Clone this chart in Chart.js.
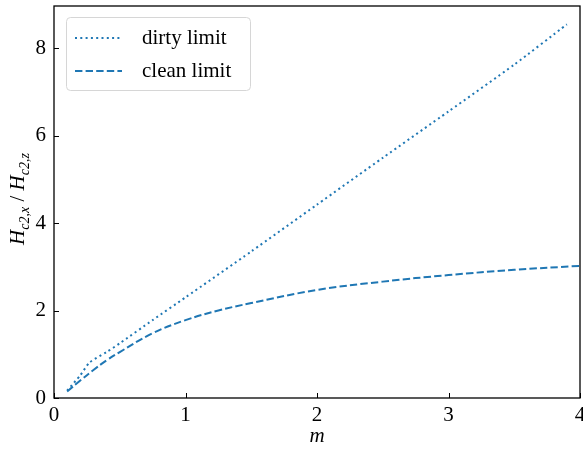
<!DOCTYPE html>
<html>
<head>
<meta charset="utf-8">
<script src="https://cdn.jsdelivr.net/npm/chart.js@4"></script>
<style>
  html, body { margin: 0; padding: 0; background: #fff; }
  #wrap { width: 583px; height: 451px; }
</style>
</head>
<body>
<div id="wrap"><canvas id="chart" width="583" height="451"></canvas></div>
<script>
// values
var dirtyM = [0.1, 0.2, 0.27, 0.4, 0.5, 0.75, 1.0, 1.5, 2.0, 2.5, 3.0, 3.5, 3.9];
var dirtyH = [0.17, 0.52, 0.81, 1.05, 1.25, 1.78, 2.30, 3.35, 4.42, 5.49, 6.55, 7.62, 8.54];
var cleanM = [0.1, 0.2, 0.3, 0.4, 0.5, 0.75, 1.0, 1.25, 1.5, 2.0, 2.5, 3.0, 3.5, 4.0];
var cleanH = [0.15, 0.40, 0.64, 0.86, 1.05, 1.48, 1.78, 2.00, 2.17, 2.47, 2.66, 2.81, 2.93, 3.02];
var xTicks = [0, 1, 2, 3, 4];
var yTicks = [0, 2, 4, 6, 8];
var labels = ["dirty limit", "clean limit"];

var blue = "#1f77b4";
var serif = "'Liberation Serif', 'DejaVu Serif', serif";

function pts(xs, ys) {
  var out = [];
  for (var i = 0; i < xs.length; i++) out.push({x: xs[i], y: ys[i]});
  return out;
}

// frame, inward ticks, y title, legend box
var decor = {
  id: 'decor',
  afterDraw: function(chart) {
    var ctx = chart.ctx, a = chart.chartArea;
    var sx = chart.scales.x, sy = chart.scales.y;
    ctx.save();
    ctx.strokeStyle = "#000";
    ctx.lineWidth = 1.3;
    ctx.strokeRect(a.left, a.top, a.right - a.left, a.bottom - a.top);
    ctx.lineWidth = 1;
    ctx.beginPath();
    xTicks.forEach(function(v) {
      var px = Math.round(sx.getPixelForValue(v)) + 0.5;
      ctx.moveTo(px, a.bottom); ctx.lineTo(px, a.bottom - 5);
    });
    yTicks.forEach(function(v) {
      var py = Math.round(sy.getPixelForValue(v)) + 0.5;
      ctx.moveTo(a.left, py); ctx.lineTo(a.left + 5, py);
    });
    ctx.stroke();

    // y axis title with subscripts
    ctx.save();
    ctx.translate(18, (a.top + a.bottom) / 2 - 3);
    ctx.rotate(-Math.PI / 2);
    ctx.fillStyle = "#000";
    ctx.textBaseline = "alphabetic";
    var parts = [
      ["H", 21, 0], ["c2,x", 14, 5], [" / ", 21, 0], ["H", 21, 0], ["c2,z", 14, 5]
    ];
    var total = 0;
    parts.forEach(function(p) {
      ctx.font = "italic " + p[1] + "px " + serif;
      total += ctx.measureText(p[0]).width;
    });
    var x = -total / 2;
    parts.forEach(function(p) {
      ctx.font = (p[0] === " / " ? "" : "italic ") + p[1] + "px " + serif;
      ctx.fillText(p[0], x, 6 + p[2]);
      x += ctx.measureText(p[0]).width;
    });
    ctx.restore();

    // legend
    var lx = a.left + 12, ly = a.top + 11, lw = 184, lh = 73;
    ctx.fillStyle = "rgba(255,255,255,0.8)";
    ctx.strokeStyle = "#d6d6d6";
    ctx.lineWidth = 1;
    ctx.beginPath();
    ctx.roundRect(lx + 0.5, ly + 0.5, lw, lh, 4);
    ctx.fill();
    ctx.stroke();
    chart.data.datasets.forEach(function(ds, i) {
      var yy = ly + 21 + i * 33;
      ctx.strokeStyle = ds.borderColor;
      ctx.lineWidth = ds.borderWidth;
      ctx.setLineDash(ds.borderDash);
      ctx.beginPath();
      ctx.moveTo(lx + 9, yy); ctx.lineTo(lx + 56, yy);
      ctx.stroke();
      ctx.setLineDash([]);
      ctx.fillStyle = "#000";
      ctx.font = "21px " + serif;
      ctx.textBaseline = "middle";
      ctx.fillText(ds.label, lx + 76, yy);
    });
    ctx.restore();
  }
};

new Chart(document.getElementById("chart"), {
  type: 'scatter',
  data: {
    datasets: [
      { label: labels[0], data: pts(dirtyM, dirtyH), showLine: true, borderColor: blue,
        borderWidth: 2, borderDash: [2, 3.3], pointRadius: 0, tension: 0.2, fill: false },
      { label: labels[1], data: pts(cleanM, cleanH), showLine: true, borderColor: blue,
        borderWidth: 2, borderDash: [7.4, 3.2], pointRadius: 0, tension: 0.4, fill: false }
    ]
  },
  options: {
    responsive: false,
    animation: false,
    layout: { padding: { top: 6, right: 3, left: 0, bottom: 0 } },
    plugins: { legend: { display: false }, tooltip: { enabled: false } },
    scales: {
      x: {
        type: 'linear', min: 0, max: 4,
        grid: { display: false, drawTicks: false, tickLength: 0 },
        border: { display: false },
        afterBuildTicks: function(s) { s.ticks = xTicks.map(function(v) { return {value: v}; }); },
        afterFit: function(s) { s.height = 53; s.paddingLeft = 0; s.paddingRight = 0; },
        ticks: { color: "#000", padding: 5, maxRotation: 0, font: { family: serif, size: 21 } },
        title: { display: true, text: "m", color: "#000", padding: { top: 0, bottom: 2 },
                 font: { family: serif, size: 21, style: 'italic' } }
      },
      y: {
        type: 'linear', min: 0, max: 8.96,
        grid: { display: false, drawTicks: false, tickLength: 0 },
        border: { display: false },
        afterBuildTicks: function(s) { s.ticks = yTicks.map(function(v) { return {value: v}; }); },
        afterFit: function(s) { s.width = 54; s.paddingTop = 0; s.paddingBottom = 0; },
        ticks: { color: "#000", padding: 8, font: { family: serif, size: 21 } }
      }
    }
  },
  plugins: [decor]
});
</script>
</body>
</html>
